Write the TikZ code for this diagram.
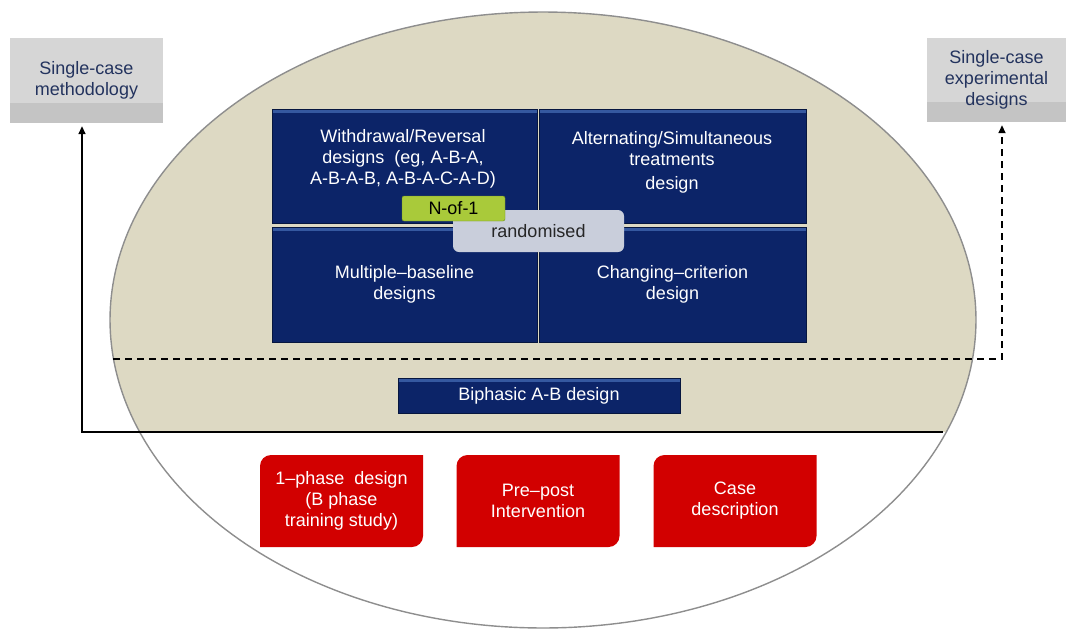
\documentclass[tikz,border=0pt]{standalone}
\usepackage{fontspec}
\setmainfont{Liberation Sans}
\usetikzlibrary{arrows.meta}

\definecolor{fieldbeige}{HTML}{DDD9C3}
\definecolor{rimgrey}{HTML}{8E8E8E}
\definecolor{navy}{HTML}{0C2468}
\definecolor{navyedge}{HTML}{06163F}
\definecolor{navyhi}{HTML}{3558A0}
\definecolor{redfill}{HTML}{D20000}
\definecolor{greyfill}{HTML}{D6D6D6}
\definecolor{greylow}{HTML}{C4C4C4}
\definecolor{boxtext}{HTML}{23335E}
\definecolor{nofonefill}{HTML}{A9CA3A}
\definecolor{nofoneedge}{HTML}{6E8F1E}
\definecolor{randfill}{HTML}{C9CEDB}

\begin{document}
\begin{tikzpicture}[x=1pt,y=-1pt,
    font=\fontsize{18}{21}\selectfont,
    rim/.style={draw=rimgrey,line width=1.4pt},
    greybox/.style={align=center,text=boxtext,inner sep=0pt,fill=greyfill,
      path picture={\fill[greylow] (path picture bounding box.south west)
        rectangle ([yshift=20pt]path picture bounding box.south east);}},
    bluebox/.style={fill=navy,draw=navyedge,line width=0.8pt,inner sep=0pt,text=white,align=center,
      path picture={\fill[navyhi] (path picture bounding box.north west)
        rectangle ([yshift=-4pt]path picture bounding box.north east);}},
    celltext/.style={align=center,text=white},
    redbox/.style={align=center,text=white,minimum width=163pt,minimum height=92pt,inner sep=0pt,
      path picture={\fill[redfill] (path picture bounding box.south west)
        -- ([yshift=-11pt]path picture bounding box.north west) to[out=90,in=180]
           ([xshift=11pt]path picture bounding box.north west)
        -- (path picture bounding box.north east)
        -- ([yshift=11pt]path picture bounding box.south east) to[out=-90,in=0]
           ([xshift=-11pt]path picture bounding box.south east) -- cycle;}},
    link/.style={line width=1.6pt,-{Triangle[length=8pt,width=7pt]},shorten >=3pt}]
  \useasboundingbox (0,0) rectangle (1068,630);

  % the ellipse: white below the solid line, beige above it
  \coordinate (rimL) at (113,359);
  \coordinate (rimR) at (943,432);
  \draw[rim,fill=white] plot[domain=21.32:158.68,samples=120,variable=\t]
    ({543+433*cos(\t)},{320+308*sin(\t)});
  \fill[fieldbeige] plot[domain=21.32:-201.32,samples=200,variable=\t]
    ({543+433*cos(\t)},{320+308*sin(\t)}) -- cycle;
  \draw[rim] plot[domain=21.32:-201.32,samples=200,variable=\t]
    ({543+433*cos(\t)},{320+308*sin(\t)});

  % outer boxes
  \node[greybox,minimum width=153pt,minimum height=85pt] (meth) at (86.5,80.5) {Single-case\\methodology};
  \node[greybox,minimum width=139pt,minimum height=84pt] (sced) at (996.5,80) {Single-case\\experimental\\designs};

  % boundaries
  \draw[link] (rimR) -| ([xshift=-4.5pt]meth.south);
  \draw[link,dash pattern=on 7pt off 5pt] (rimL) -| ([xshift=5.5pt]sced.south);

  % experimental designs
  \node[bluebox,minimum width=265pt,minimum height=114pt] (wr) at (404.5,166) {};
  \node[bluebox,minimum width=267pt,minimum height=114pt] (alt) at (672.5,166) {};
  \node[bluebox,minimum width=265pt,minimum height=115pt] (mb) at (404.5,284.5) {Multiple\textendash baseline\\designs};
  \node[bluebox,minimum width=267pt,minimum height=115pt] (cc) at (672.5,284.5) {Changing\textendash criterion\\design};
  \node[celltext] (wrtxt) at (403,159) {Withdrawal/Reversal\\designs\ \ (eg, A-B-A,\\A-B-A-B, A-B-A-C-A-D)};
  \node[celltext] (alttxt) at (672,162) {Alternating/Simultaneous\\treatments\\[3pt]design};
  \node[inner sep=0pt,minimum width=171pt,minimum height=42pt,rounded corners=6pt,fill=randfill,
    text=black!85] (rand) at (538.5,231) {randomised};
  \node[inner sep=0pt,minimum width=103pt,minimum height=25pt,rounded corners=2pt,draw=nofoneedge,
    fill=nofonefill] (nof1) at (453.5,208.5) {N-of-1};
  \node[bluebox,minimum width=282pt,minimum height=35pt] (ab) at (539,395.5) {Biphasic A-B design};

  % pre-experimental designs
  \node[redbox] (onephase) at (341.5,501) {1\textendash phase\ \ design\\(B phase\\training study)};
  \node[redbox] (prepost) at (538,501) {Pre\textendash post\\Intervention};
  \node[redbox] (case) at (735,501) {Case\\description};
\end{tikzpicture}
\end{document}
